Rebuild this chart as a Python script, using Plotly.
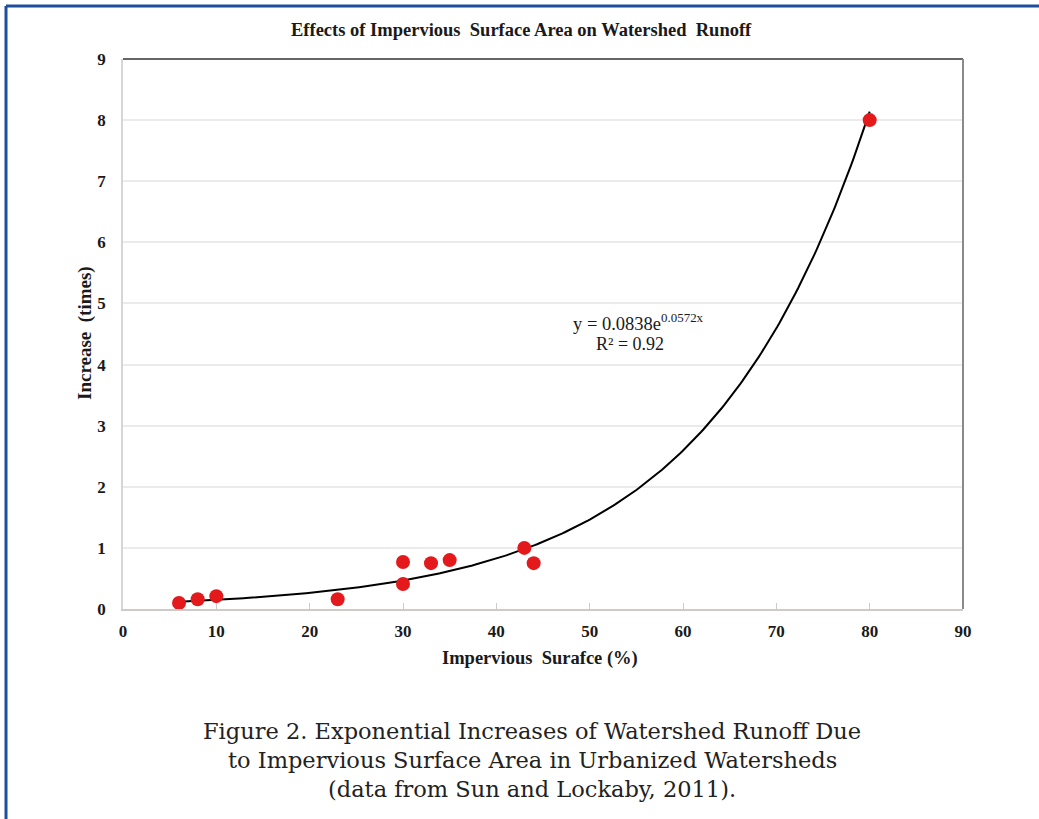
import numpy as np
import plotly.graph_objects as go

# Data
impervious_pct = [6, 8, 10, 23, 30, 30, 33, 35, 43, 44, 80]
runoff_increase = [0.10, 0.16, 0.21, 0.16, 0.77, 0.41, 0.75, 0.80, 1.00, 0.75, 8.00]

# Displayed exponential trendline y = a * exp(b x)
trend_a = 0.0838
trend_b = 0.0572
trend_x_min, trend_x_max = 6, 80

x_ticks = [0, 10, 20, 30, 40, 50, 60, 70, 80, 90]
y_ticks = [0, 1, 2, 3, 4, 5, 6, 7, 8, 9]

title_text = "Effects of Impervious  Surface Area on Watershed  Runoff"
x_title = "Impervious  Surafce (%)"
y_title = "Increase  (times)"
caption_lines = [
    "Figure 2. Exponential Increases of Watershed Runoff Due",
    "to Impervious Surface Area in Urbanized Watersheds",
    "(data from Sun and Lockaby, 2011).",
]

tx = np.linspace(trend_x_min, trend_x_max, 300)
ty = trend_a * np.exp(trend_b * tx)

W, H = 1039, 819
L, R, T, B = 123, 963, 59, 609  # plot area in px


def px(x):
    return (x - L) / (R - L)


def py(y):
    return (B - y) / (B - T)


serif = "Liberation Serif, Times New Roman, serif"

fig = go.Figure()
fig.add_trace(go.Scatter(x=tx, y=ty, mode="lines",
                         line=dict(color="black", width=2), hoverinfo="skip",
                         showlegend=False))
fig.add_trace(go.Scatter(x=impervious_pct, y=runoff_increase, mode="markers",
                         marker=dict(color="#e3191c", size=14),
                         showlegend=False))

fig.update_layout(
    width=W, height=H,
    margin=dict(l=L, r=W - R, t=T, b=H - B),
    paper_bgcolor="white", plot_bgcolor="white",
    font=dict(family=serif, color="#1a1a1a"),
    xaxis=dict(range=[0, 90], tickvals=x_ticks, ticktext=["<b>%d</b>" % v for v in x_ticks],
               showgrid=False, zeroline=False, showline=True, linecolor="#cfcac8",
               linewidth=2, ticks="inside", ticklen=6, tickcolor="#cfcac8",
               tickfont=dict(family=serif, size=17, color="#1a1a1a"),
               ticklabelstandoff=6, fixedrange=True),
    yaxis=dict(range=[0, 9], tickvals=y_ticks, ticktext=["<b>%d</b>" % v for v in y_ticks],
               showgrid=True, gridcolor="#ebebeb", gridwidth=1.5, zeroline=False,
               showline=True, linecolor="#d6d6d6", linewidth=1.5, ticks="",
               tickfont=dict(family=serif, size=17, color="#1a1a1a"),
               ticklabelstandoff=12, fixedrange=True),
)

shapes = [
    # top and right plot borders
    dict(type="line", xref="paper", yref="paper", x0=0, x1=1, y0=1, y1=1,
         line=dict(color="#666666", width=2)),
    dict(type="line", xref="paper", yref="paper", x0=1, x1=1, y0=0, y1=1,
         line=dict(color="#8a8a8a", width=2)),
    # blue page frame
    dict(type="line", xref="paper", yref="paper", x0=px(6), x1=px(1045), y0=py(6), y1=py(6),
         line=dict(color="#1f4e9c", width=3)),
    dict(type="line", xref="paper", yref="paper", x0=px(6), x1=px(6), y0=py(6), y1=py(830),
         line=dict(color="#1f4e9c", width=3)),
]
fig.update_layout(shapes=shapes)

ann = [
    dict(text="<b>" + title_text + "</b>", x=px(521), y=py(30), font=dict(size=18.5)),
    dict(text="<b>" + x_title + "</b>", x=px(540), y=py(658), font=dict(size=18.5)),
    dict(text="<b>" + y_title + "</b>", x=px(85), y=py(333), font=dict(size=19), textangle=-90),
    dict(text="y = 0.0838e<sup>0.0572x</sup>",
         x=px(638), y=py(322), font=dict(size=18.5)),
    dict(text="R² = 0.92", x=px(630), y=py(344), font=dict(size=18)),
]
for i, line in enumerate(caption_lines):
    ann.append(dict(text=line, x=px(532), y=py(731 + 29 * i),
                    font=dict(family="DejaVu Serif", size=22.5, color="#222222")))
for a in ann:
    a.update(xref="paper", yref="paper", showarrow=False, xanchor="center", yanchor="middle")
fig.update_layout(annotations=ann)

fig.write_html("out.html", config={"displayModeBar": False},
               post_script="document.body.style.margin='0';")
